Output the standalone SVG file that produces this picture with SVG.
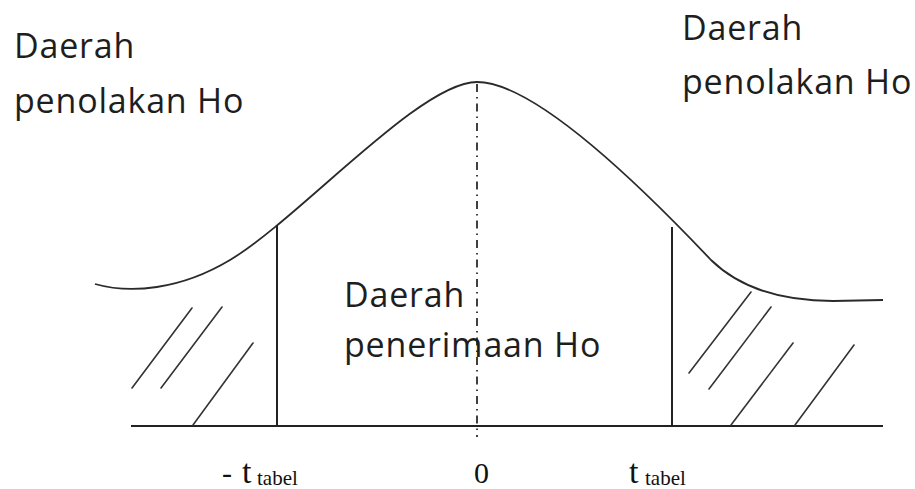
<svg xmlns="http://www.w3.org/2000/svg" width="915" height="489" viewBox="0 0 915 489">
<style>
.ln{stroke:#222;stroke-width:2;fill:none}
.cv{stroke:#2a2a2a;stroke-width:1.8;fill:none}
.ht{stroke:#333;stroke-width:1.6;fill:none;stroke-linecap:round}
.dd{stroke:#111;stroke-width:1.6;fill:none;stroke-dasharray:8 5 1.5 5}
.lb{font-family:"Open Sans","DejaVu Sans",sans-serif;font-size:34px;letter-spacing:0.8px;fill:#1e1e1e}
.tm{font-family:"Liberation Serif","Times New Roman",serif;fill:#111}
</style>
<rect width="915" height="489" fill="#fff"/>
<g id="connectors">
<path id="curve" class="cv" d="M95,284 C130,294 180,290 230,260 C300,218 420,82 477,82 C535,82 640,185 711,260 C748,296 800,301 833,301 L883,300"/>
<line class="ln" x1="131" y1="426" x2="883" y2="426"/>
<line class="ln" x1="277" y1="225" x2="277" y2="426"/>
<line class="ln" x1="672" y1="227" x2="672" y2="426"/>
<line class="dd" x1="477" y1="84" x2="477" y2="437"/>
</g>
<g id="hatch-left">
<line class="ht" x1="132" y1="388" x2="192" y2="308"/>
<line class="ht" x1="161" y1="388" x2="222" y2="307"/>
<line class="ht" x1="193" y1="425" x2="253" y2="343"/>
</g>
<g id="hatch-right">
<line class="ht" x1="689" y1="373" x2="751" y2="292"/>
<line class="ht" x1="709" y1="389" x2="771" y2="307"/>
<line class="ht" x1="731" y1="425" x2="793" y2="343"/>
<line class="ht" x1="795" y1="425" x2="854" y2="345"/>
</g>
<g id="label-left">
<text class="lb" x="14" y="58">Daerah</text>
<text class="lb" x="14" y="113">penolakan Ho</text>
</g>
<g id="label-right">
<text class="lb" x="682" y="40">Daerah</text>
<text class="lb" x="682" y="94">penolakan Ho</text>
</g>
<g id="label-center">
<text class="lb" x="344" y="307">Daerah</text>
<text class="lb" x="344" y="357">penerimaan Ho</text>
</g>
<g id="axis-labels">
<text class="tm" x="222" y="483" font-size="30">-</text>
<text class="tm" x="242" y="483" font-size="34">t</text>
<text class="tm" x="257" y="485" font-size="21">tabel</text>
<text class="tm" x="474" y="483" font-size="30">0</text>
<text class="tm" x="629" y="483" font-size="34">t</text>
<text class="tm" x="645" y="485" font-size="21">tabel</text>
</g>
</svg>
